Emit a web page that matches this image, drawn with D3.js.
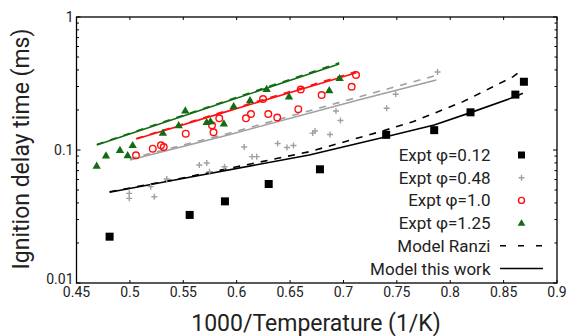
<!DOCTYPE html>
<html><head><meta charset="utf-8">
<script src="https://cdn.jsdelivr.net/npm/d3@7"></script>
<style>body{margin:0;background:#fff}svg{display:block;font-family:Roboto,sans-serif}</style>
</head><body>
<svg id="c" width="568" height="336"></svg>
<script>
// ---- data ----
const xTicks = [0.45,0.5,0.55,0.6,0.65,0.7,0.75,0.8,0.85,0.9];
const yTicks = [0.01,0.1,1];
const yTickLabels = ["0.01","0.1","1"];

const phi012X = [0.481,0.556,0.589,0.630,0.678,0.740,0.785,0.819,0.861,0.869];
const phi012Y = [0.0223,0.0325,0.0411,0.0555,0.0716,0.130,0.141,0.192,0.261,0.326];

const phi048X = [0.4994,0.4994,0.5195,0.5229,0.5345,0.565,0.572,0.5746,0.5886,0.607,0.6144,0.6188,0.6384,0.6471,0.6532,0.6712,0.6734,0.6874,0.693,0.6972,0.7405,0.7489,0.7881];
const phi048Y = [0.0472,0.0433,0.053,0.0445,0.0605,0.0771,0.0798,0.0687,0.0749,0.1053,0.0891,0.0891,0.112,0.1044,0.108,0.134,0.139,0.1308,0.1965,0.1666,0.206,0.2624,0.386];

const phi10X = [0.5057,0.5214,0.5291,0.5317,0.5523,0.5769,0.5783,0.5837,0.6087,0.6134,0.6247,0.6296,0.638,0.6577,0.660,0.6796,0.7077,0.7118];
const phi10Y = [0.0912,0.1023,0.1085,0.1053,0.1326,0.1533,0.136,0.173,0.173,0.1865,0.2417,0.1865,0.1755,0.2027,0.285,0.2592,0.299,0.3664];

const phi125X = [0.4689,0.4776,0.4907,0.4979,0.5026,0.5309,0.5457,0.5519,0.5719,0.5755,0.588,0.5972,0.6125,0.6281,0.649,0.6867,0.6964];
const phi125Y = [0.0754,0.0901,0.0991,0.0904,0.1077,0.1335,0.152,0.1965,0.1604,0.1627,0.1568,0.2116,0.2344,0.285,0.2503,0.2788,0.3437];

// model curves
const blkX = [0.481,0.547,0.668,0.734,0.785,0.819,0.861,0.868];
const blkThisY = [0.0481,0.0605,0.0917,0.1225,0.154,0.191,0.252,0.267];
const blkRanziX = [0.481,0.547,0.668,0.734,0.765,0.812,0.859,0.868];
const blkRanziY = [0.0485,0.061,0.097,0.137,0.163,0.231,0.356,0.404];

const grayX = [0.500,0.592,0.714,0.787];
const grayThisY = [0.0841,0.1297,0.2376,0.336];
const grayRanziY = [0.086,0.133,0.250,0.364];

const redX = [0.506,0.592,0.712];
const redThisY = [0.121,0.196,0.381];
const redRanziY = [0.122,0.199,0.389];

const greenX = [0.469,0.592,0.696];
const greenThisY = [0.109,0.2335,0.443];
const greenRanziY = [0.110,0.237,0.452];

const legendLabels = ["Expt \u03c6=0.12","Expt \u03c6=0.48","Expt \u03c6=1.0","Expt \u03c6=1.25","Model Ranzi","Model this work"];

// ---- drawing ----
const C = {black:"#000", gray:"#a0a0a0", red:"#ff1010", green:"#126c12", text:"#222"};
const L = 76.5, R = 557, T = 17, B = 283;
const svg = d3.select("#c");
const x = d3.scaleLinear().domain([0.45,0.9]).range([L,R]);
const y = d3.scaleLog().domain([0.01,1]).range([B,T]);

const line = d3.line().x(d=>x(d[0])).y(d=>y(d[1]));
const zip = (a,b)=>a.map((v,i)=>[v,b[i]]);

// ticks
const tg = svg.append("g").attr("stroke","#000").attr("stroke-width",1);
xTicks.forEach(v=>{
  tg.append("line").attr("x1",x(v)).attr("x2",x(v)).attr("y1",B).attr("y2",B-3);
  tg.append("line").attr("x1",x(v)).attr("x2",x(v)).attr("y1",T).attr("y2",T+3);
});
const minor = [];
[0.01,0.1].forEach(d=>{for(let k=1;k<=9;k++) minor.push(d*k);});
minor.push(1);
minor.forEach(v=>{
  const len = (Math.abs(Math.log10(v)-Math.round(Math.log10(v)))<1e-9)?4:2.5;
  tg.append("line").attr("x1",L).attr("x2",L+len).attr("y1",y(v)).attr("y2",y(v));
  tg.append("line").attr("x1",R).attr("x2",R-len).attr("y1",y(v)).attr("y2",y(v));
});

// tick labels
svg.append("g").selectAll("text").data(xTicks).join("text")
  .attr("x",d=>x(d)).attr("y",B+14).attr("text-anchor","middle")
  .attr("font-size",14).attr("fill",C.text).text(d=>String(d));
svg.append("g").selectAll("text").data(yTicks).join("text")
  .attr("x",L-3).attr("y",d=>Math.min(y(d)+5,B+1)).attr("text-anchor","end")
  .attr("font-size",14).attr("fill",C.text).text((d,i)=>yTickLabels[i]);

// model lines
function drawLine(xs,ys,color,dash){
  svg.append("path").datum(zip(xs,ys)).attr("d",line).attr("fill","none")
    .attr("stroke",color).attr("stroke-width",1.6)
    .attr("stroke-dasharray",dash?"7,7":null);
}
drawLine(grayX,grayThisY,C.gray,false);
drawLine(grayX,grayRanziY,C.gray,true);
drawLine(redX,redThisY,C.red,false);
drawLine(redX,redRanziY,C.red,true);
drawLine(greenX,greenThisY,C.green,false);
drawLine(greenX,greenRanziY,C.green,true);
drawLine(blkX,blkThisY,C.black,false);
drawLine(blkRanziX,blkRanziY,C.black,true);

// markers
function square(g,cx,cy,s){g.append("rect").attr("x",cx-s/2).attr("y",cy-s/2).attr("width",s).attr("height",s).attr("fill",C.black);}
function cross(g,cx,cy,s){g.append("path").attr("d",`M${cx-s},${cy}H${cx+s}M${cx},${cy-s}V${cy+s}`).attr("stroke",C.gray).attr("stroke-width",1.4).attr("fill","none");}
function circle(g,cx,cy,r){g.append("circle").attr("cx",cx).attr("cy",cy).attr("r",r).attr("fill","none").attr("stroke",C.red).attr("stroke-width",1.4);}
function triangle(g,cx,cy,sz){g.append("path").attr("d",d3.symbol().type(d3.symbolTriangle).size(sz)()).attr("transform",`translate(${cx},${cy})`).attr("fill",C.green);}

const mg = svg.append("g");
zip(phi048X,phi048Y).forEach(d=>cross(mg,x(d[0]),y(d[1]),3));
zip(phi10X,phi10Y).forEach(d=>circle(mg,x(d[0]),y(d[1]),3.3));
zip(phi125X,phi125Y).forEach(d=>triangle(mg,x(d[0]),y(d[1]),30));
zip(phi012X,phi012Y).forEach(d=>square(mg,x(d[0]),y(d[1]),8));

// frame
svg.append("rect").attr("x",L).attr("y",T).attr("width",R-L).attr("height",B-T)
  .attr("fill","none").attr("stroke","#000").attr("stroke-width",1.3);

// legend
const lg = svg.append("g");
const ly0 = 155, ldy = 22.7, ltx = 490.5, lmx = 521.5;
legendLabels.forEach((t,i)=>{
  lg.append("text").attr("x",ltx).attr("y",ly0+i*ldy+6).attr("text-anchor","end")
    .attr("font-size",17).attr("fill",C.text).text(t);
});
square(lg,lmx,ly0,7);
cross(lg,lmx,ly0+ldy,3);
circle(lg,lmx,ly0+2*ldy,3);
triangle(lg,lmx,ly0+3*ldy+0.5,26);
lg.append("line").attr("x1",500).attr("x2",542).attr("y1",ly0+4*ldy).attr("y2",ly0+4*ldy)
  .attr("stroke","#000").attr("stroke-width",1.4).attr("stroke-dasharray","6,12");
lg.append("line").attr("x1",500).attr("x2",543).attr("y1",ly0+5*ldy).attr("y2",ly0+5*ldy)
  .attr("stroke","#000").attr("stroke-width",1.4);

// axis titles
svg.append("text").attr("x",316).attr("y",331).attr("text-anchor","middle")
  .attr("font-size",23).attr("fill",C.text).text("1000/Temperature (1/K)");
svg.append("text").attr("transform","translate(29,149) rotate(-90)").attr("text-anchor","middle")
  .attr("font-size",23).attr("fill",C.text).text("Ignition delay time (ms)");
</script>
</body></html>
